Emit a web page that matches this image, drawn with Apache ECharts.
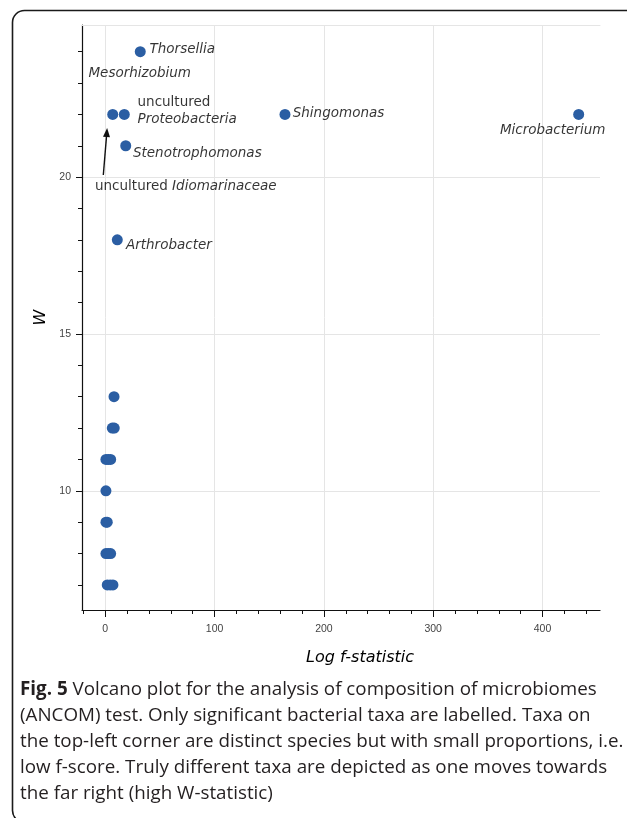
<!DOCTYPE html>
<html>
<head>
<meta charset="utf-8">
<script src="https://cdn.jsdelivr.net/npm/echarts@6/dist/echarts.min.js"></script>
<style>
html,body{margin:0;padding:0;background:#fff;}
#chart{width:627px;height:818px;}
</style>
</head>
<body>
<div id="chart"></div>
<script>
// Points: Log f-statistic (x) vs W (y)
const pointX = [32, 6.8, 17.4, 164.4, 433.1, 18.7, 11.0,
                8.0, 6.4, 8.2, 0.6, 2.7, 4.9, 0.6, 0.6, 1.8, 0.6, 2.7, 4.9, 1.8, 4.5, 7.0];
const pointW = [24, 22, 22, 22, 22, 21, 18,
                13, 12, 12, 11, 11, 11, 10, 9, 9, 8, 8, 8, 7, 7, 7];

// Annotation labels (text, anchor x, anchor W)
const labelText = [
  '{i|Thorsellia}',
  '{i|Mesorhizobium}',
  '{n|uncultured}\n{i|Proteobacteria}',
  '{i|Shingomonas}',
  '{i|Microbacterium}',
  '{i|Stenotrophomonas}',
  '{n|uncultured }{i|Idiomarinaceae}',
  '{i|Arthrobacter}'
];
const labelX = [40.5, -15.4, 29.5, 171.5, 361, 25.3, -9.4, 18.9];
const labelW = [24.06, 23.31, 22.10, 22.02, 21.48, 20.74, 19.69, 17.81];

// Arrow (from, to) in data coordinates
const arrowFrom = [-1.8, 20.07];
const arrowTo = [1.4, 21.42];

const xTicks = [0, 100, 200, 300, 400];
const yTicks = [10, 15, 20];

const xTitle = 'Log f-statistic';
const yTitle = 'W';
const captionLines = [
  '{b|Fig. 5} Volcano plot for the analysis of composition of microbiomes',
  '(ANCOM) test. Only significant bacterial taxa are labelled. Taxa on',
  'the top-left corner are distinct species but with small proportions, i.e.',
  'low f-score. Truly different taxa are depicted as one moves towards',
  'the far right (high W-statistic)'
];

const chart = echarts.init(document.getElementById('chart'), null, {renderer: 'canvas'});
const dotColor = '#2b5ea3';
const tickFont = 'Liberation Sans, Arial, sans-serif';
const labFont = 'DejaVu Sans, sans-serif';
const capSize = 18.8;

const graphics = [{
  type: 'rect', left: 10, top: 8, silent: true,
  shape: {x: 0, y: 0, width: 680, height: 812, r: 12},
  style: {fill: 'none', stroke: '#1a1a1a', lineWidth: 1.6}
}];
captionLines.forEach(function (t, i) {
  graphics.push({
    type: 'text', left: 20, top: 680 + i * 26, silent: true,
    style: {
      text: t,
      font: capSize + 'px "Open Sans", sans-serif',
      fill: '#231f20',
      rich: {b: {fontWeight: 'bold', fontSize: capSize, fontFamily: 'Open Sans', fill: '#231f20'}}
    }
  });
});

const option = {
  animation: false,
  backgroundColor: '#fff',
  grid: {left: 82, top: 25, right: 27, bottom: 208, containLabel: false},
  xAxis: [{
    type: 'value', min: -21.3, max: 452.6, splitNumber: 5,
    name: xTitle, nameLocation: 'middle', nameGap: 40,
    nameTextStyle: {fontFamily: labFont, fontStyle: 'italic', fontSize: 16, color: '#000', padding: [0, 0, 0, 38]},
    axisLine: {show: true, onZero: false, lineStyle: {color: '#111', width: 1.2}},
    axisTick: {show: true, length: 7, customValues: xTicks, lineStyle: {color: '#111'}},
    minorTick: {show: true, splitNumber: 5, length: 4, lineStyle: {color: '#111'}},
    axisLabel: {customValues: xTicks, margin: 14, fontFamily: tickFont, fontSize: 10.5, color: '#444'},
    splitLine: {show: true, lineStyle: {color: '#e5e5e5', width: 1}}
  }, {
    type: 'value', position: 'top', min: -21.3, max: 452.6,
    axisLine: {show: true, onZero: false, lineStyle: {color: '#e5e5e5'}},
    axisTick: {show: false}, axisLabel: {show: false}, splitLine: {show: false}
  }],
  yAxis: {
    type: 'value', min: 6.2, max: 24.85, splitNumber: 4,
    name: yTitle, nameLocation: 'middle', nameGap: 31, nameRotate: 90,
    nameTextStyle: {fontFamily: labFont, fontStyle: 'italic', fontSize: 16, color: '#000'},
    axisLine: {show: true, onZero: false, lineStyle: {color: '#111', width: 1.2}},
    axisTick: {show: true, length: 6, customValues: yTicks, lineStyle: {color: '#111'}},
    minorTick: {show: true, splitNumber: 5, length: 4, lineStyle: {color: '#111'}},
    axisLabel: {customValues: yTicks, margin: 11, fontFamily: tickFont, fontSize: 10.5, color: '#444'},
    splitLine: {show: true, lineStyle: {color: '#e5e5e5', width: 1}}
  },
  series: [{
    type: 'scatter', xAxisIndex: 0,
    symbol: 'circle', symbolSize: 11,
    itemStyle: {color: dotColor, opacity: 1},
    data: pointX.map(function (x, i) { return [x, pointW[i]]; }),
    z: 3
  }, {
    type: 'line', xAxisIndex: 0, silent: true,
    data: [arrowFrom, arrowTo],
    showSymbol: false, symbol: 'none',
    lineStyle: {color: '#111', width: 1.4},
    markPoint: {
      silent: true,
      symbol: 'triangle', symbolSize: [7, 9],
      symbolRotate: -4,
      itemStyle: {color: '#111'},
      label: {show: false},
      data: [{coord: arrowTo, symbolOffset: [0, 0]}]
    },
    z: 2
  }, {
    type: 'scatter', xAxisIndex: 0, symbolSize: 0, silent: true,
    data: labelX.map(function (x, i) { return {value: [x, labelW[i]], text: labelText[i]}; }),
    label: {
      show: true, position: 'right', distance: 0, color: '#000',
      formatter: function (p) { return p.data.text; },
      lineHeight: 17,
      rich: {
        i: {fontStyle: 'italic', fontFamily: labFont, fontSize: 13.5, color: '#000', lineHeight: 17},
        n: {fontStyle: 'normal', fontFamily: labFont, fontSize: 13.5, color: '#000', lineHeight: 17}
      }
    },
    z: 4
  }],
  graphic: graphics
};
chart.setOption(option);
</script>
</body>
</html>
